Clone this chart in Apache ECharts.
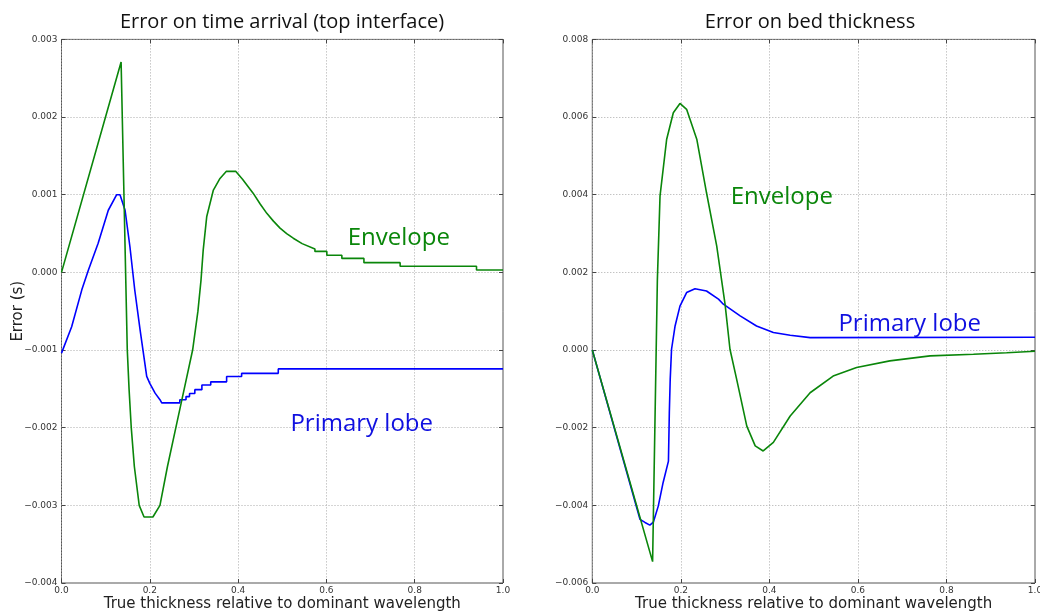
<!DOCTYPE html>
<html>
<head>
<meta charset="utf-8">
<script src="https://cdn.jsdelivr.net/npm/echarts@6/dist/echarts.min.js"></script>
<style>html,body{margin:0;padding:0;background:#fff;overflow:hidden;}#c{width:1040px;height:614px;}</style>
</head>
<body>
<div id="c"></div>
<script>
// ---- Data ----
var titles = ['Error on time arrival (top interface)', 'Error on bed thickness'];
var xAxisLabel = 'True thickness relative to dominant wavelength';
var yAxisLabel = 'Error (s)';
var seriesNames = ['Primary lobe', 'Envelope'];

// Left panel: Error on time arrival (s)
var leftLobeX = [0, 0.023, 0.046, 0.061, 0.083, 0.106, 0.125, 0.1325, 0.144, 0.155, 0.166, 0.178, 0.193, 0.200, 0.212, 0.223, 0.227, 0.268, 0.268, 0.282, 0.282, 0.290, 0.290, 0.302, 0.302, 0.318, 0.318, 0.338, 0.338, 0.374, 0.374, 0.408, 0.408, 0.491, 0.491, 1.0];
var leftLobeY = [-0.00104, -0.00070, -0.000225, 0.00003, 0.000375, 0.00080, 0.00100, 0.00100, 0.00080, 0.00033, -0.00023, -0.00074, -0.00134, -0.00143, -0.001555, -0.00164, -0.00168, -0.00168, -0.00164, -0.00164, -0.00160, -0.00160, -0.00156, -0.00156, -0.00151, -0.00151, -0.00145, -0.00145, -0.00141, -0.00141, -0.00134, -0.00134, -0.00130, -0.00130, -0.001243, -0.001243];
var leftEnvX = [0, 0.135, 0.149, 0.153, 0.158, 0.165, 0.176, 0.187, 0.207, 0.223, 0.240, 0.259, 0.278, 0.297, 0.309, 0.316, 0.321, 0.329, 0.344, 0.359, 0.373, 0.395, 0.410, 0.434, 0.450, 0.465, 0.480, 0.495, 0.510, 0.525, 0.545, 0.574, 0.574, 0.601, 0.601, 0.635, 0.635, 0.685, 0.685, 0.767, 0.767, 0.940, 0.940, 1.0];
var leftEnvY = [0, 0.00271, -0.00100, -0.00150, -0.00200, -0.00250, -0.00300, -0.00315, -0.00315, -0.00300, -0.00250, -0.00200, -0.00150, -0.00100, -0.00050, -0.00010, 0.00029, 0.00072, 0.00106, 0.00121, 0.00130, 0.00130, 0.00120, 0.00102, 0.00088, 0.00076, 0.00066, 0.00057, 0.00050, 0.00044, 0.00037, 0.00030, 0.00027, 0.00027, 0.00022, 0.00022, 0.00018, 0.00018, 0.000125, 0.000125, 0.000078, 0.000078, 0.00003, 0.00003];

// Right panel: Error on bed thickness
var rightLobeX = [0, 0.1077, 0.119, 0.130, 0.138, 0.149, 0.160, 0.172, 0.174, 0.176, 0.179, 0.187, 0.198, 0.213, 0.232, 0.258, 0.285, 0.296, 0.334, 0.371, 0.409, 0.447, 0.492, 1.0];
var rightLobeY = [0, -0.00436, -0.00444, -0.00451, -0.00443, -0.00402, -0.00341, -0.00286, -0.00161, -0.00075, 0.00002, 0.00062, 0.00113, 0.00148, 0.00158, 0.00152, 0.00131, 0.00118, 0.00088, 0.00062, 0.00045, 0.00038, 0.00032, 0.00033];
var rightEnvX = [0, 0.1362, 0.147, 0.153, 0.168, 0.183, 0.198, 0.213, 0.236, 0.258, 0.281, 0.300, 0.311, 0.326, 0.349, 0.368, 0.386, 0.409, 0.447, 0.492, 0.544, 0.597, 0.672, 0.763, 0.861, 0.936, 1.0];
var rightEnvY = [0, -0.00545, 0.00182, 0.00397, 0.00543, 0.00611, 0.00635, 0.00620, 0.00543, 0.00405, 0.00268, 0.00117, 0.00002, -0.00075, -0.00196, -0.00247, -0.00260, -0.00238, -0.00170, -0.00110, -0.00067, -0.00045, -0.00028, -0.00015, -0.00011, -0.00007, -0.00003];

// Tick settings
var xTicks = {min: 0, max: 1, interval: 0.2};
var leftYTicks = {min: -0.004, max: 0.003, interval: 0.001};
var rightYTicks = {min: -0.006, max: 0.008, interval: 0.002};

// Annotation anchor positions (data coordinates)
var leftEnvLabelAt = [0.764, 0.00044];
var leftLobeLabelAt = [0.68, -0.00195];
var rightEnvLabelAt = [0.428, 0.00393];
var rightLobeLabelAt = [0.717, 0.00066];

function zip(xs, ys) { return xs.map(function (x, i) { return [x, ys[i]]; }); }

var GREEN = '#0a860a', BLUE = '#0000ff';
var tickFont = 'DejaVu Sans';
var annFont = 'Open Sans';

function yFmt(v) { var s = Number(v).toFixed(3); if (s === '-0.000') s = '0.000'; return s.replace('-', '\u2212'); }
function xFmt(v) { return Number(v).toFixed(1); }

var gridLine = {show: true, lineStyle: {type: [1, 2], color: '#aaaaaa', width: 1}};
var tickStyle = {show: true, inside: true, length: 4, lineStyle: {color: '#444'}};

function makeX(idx) {
  return {
    type: 'value', gridIndex: idx, min: xTicks.min, max: xTicks.max, interval: xTicks.interval,
    name: xAxisLabel, nameLocation: 'middle', nameGap: 14, nameMoveOverlap: false,
    nameTextStyle: {fontFamily: tickFont, fontSize: 15, color: '#222'},
    axisLine: {show: false, onZero: false},
    axisTick: tickStyle,
    axisLabel: {formatter: xFmt, fontFamily: tickFont, fontSize: 9, color: '#333', margin: 3},
    splitLine: gridLine
  };
}
function makeXTop(idx) {
  return {
    type: 'value', gridIndex: idx, position: 'top', min: xTicks.min, max: xTicks.max, interval: xTicks.interval,
    axisLine: {show: false, onZero: false}, axisTick: tickStyle, axisLabel: {show: false}, splitLine: {show: false}
  };
}
function makeY(idx, t, withName) {
  var a = {
    type: 'value', gridIndex: idx, min: t.min, max: t.max, interval: t.interval,
    axisLine: {show: false, onZero: false},
    axisTick: tickStyle,
    axisLabel: {formatter: yFmt, fontFamily: tickFont, fontSize: 9, color: '#333', margin: 4},
    splitLine: gridLine
  };
  if (withName) {
    a.name = yAxisLabel; a.nameLocation = 'middle'; a.nameGap = 36; a.nameMoveOverlap = false;
    a.nameTextStyle = {fontFamily: tickFont, fontSize: 15, color: '#222'};
  }
  return a;
}
function makeYRight(idx, t) {
  return {
    type: 'value', gridIndex: idx, position: 'right', min: t.min, max: t.max, interval: t.interval,
    axisLine: {show: false, onZero: false}, axisTick: tickStyle, axisLabel: {show: false}, splitLine: {show: false}
  };
}
function ann(text, at, color) {
  return {
    symbol: 'circle', symbolSize: 0, silent: true,
    label: {show: true, position: 'inside', formatter: text, color: color, fontFamily: annFont, fontSize: 24},
    data: [{coord: at, value: text}]
  };
}
function line(name, data, xi, color, mp) {
  return {
    name: name, type: 'line', xAxisIndex: xi, yAxisIndex: xi, data: data,
    showSymbol: false, symbol: 'none', smooth: false, animation: false,
    lineStyle: {color: color, width: 1.6}, itemStyle: {color: color},
    markPoint: mp, z: 3
  };
}

var chart = echarts.init(document.getElementById('c'), null, {renderer: 'canvas', width: 1040, height: 614});
chart.setOption({
  backgroundColor: '#ffffff',
  animation: false,
  title: [
    {text: titles[0], left: 277, top: 7, textAlign: 'center', textStyle: {fontFamily: annFont, fontSize: 20, fontWeight: 'normal', color: '#111'}},
    {text: titles[1], left: 805, top: 7, textAlign: 'center', textStyle: {fontFamily: annFont, fontSize: 20, fontWeight: 'normal', color: '#111'}}
  ],
  grid: [
    {left: 61.5, width: 441.5, top: 39.4, height: 543.6, outerBoundsMode: 'none', containLabel: false, show: true, borderColor: '#555', borderWidth: 1, backgroundColor: 'transparent'},
    {left: 592.3, width: 442.7, top: 39.4, height: 543.6, outerBoundsMode: 'none', containLabel: false, show: true, borderColor: '#555', borderWidth: 1, backgroundColor: 'transparent'}
  ],
  xAxis: [makeX(0), makeX(1), makeXTop(0), makeXTop(1)],
  yAxis: [makeY(0, leftYTicks, true), makeY(1, rightYTicks, false), makeYRight(0, leftYTicks), makeYRight(1, rightYTicks)],
  series: [
    line(seriesNames[0], zip(leftLobeX, leftLobeY), 0, BLUE, ann('Primary lobe', leftLobeLabelAt, '#1010e0')),
    line(seriesNames[1], zip(leftEnvX, leftEnvY), 0, GREEN, ann('Envelope', leftEnvLabelAt, GREEN)),
    line(seriesNames[0], zip(rightLobeX, rightLobeY), 1, BLUE, ann('Primary lobe', rightLobeLabelAt, '#1010e0')),
    line(seriesNames[1], zip(rightEnvX, rightEnvY), 1, GREEN, ann('Envelope', rightEnvLabelAt, GREEN))
  ]
});
</script>
</body>
</html>
